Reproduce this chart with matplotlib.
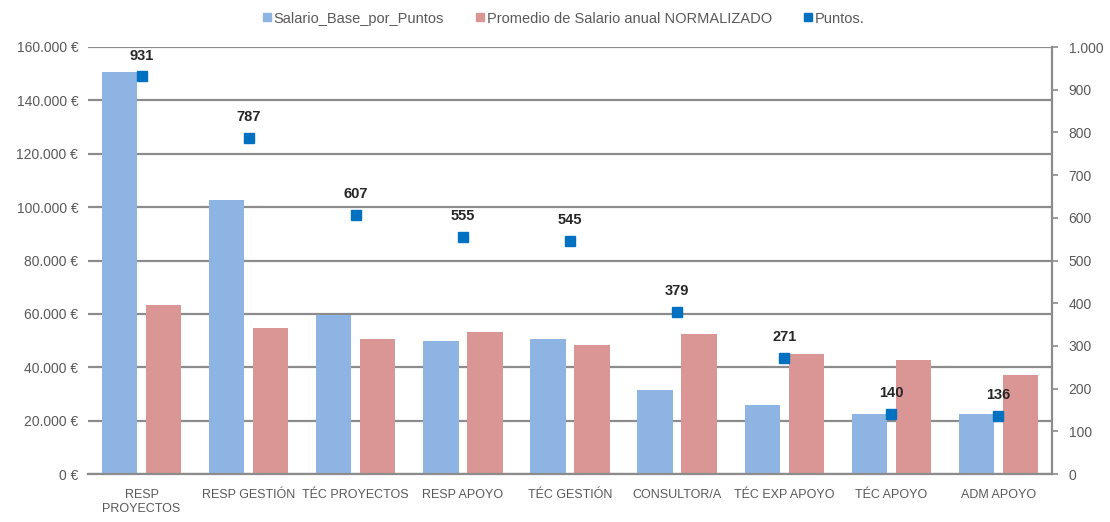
import matplotlib
matplotlib.use("Agg")
import matplotlib.pyplot as plt
from matplotlib.ticker import FuncFormatter, MultipleLocator
from matplotlib.lines import Line2D
import numpy as np

categories = ["RESP\nPROYECTOS", "RESP GESTIÓN", "TÉC PROYECTOS", "RESP APOYO",
              "TÉC GESTIÓN", "CONSULTOR/A", "TÉC EXP APOYO", "TÉC APOYO", "ADM APOYO"]
salario_base = [150800, 102600, 59700, 49900, 50600, 31300, 25900, 22500, 22500]
salario_normalizado = [63500, 54700, 50700, 53200, 48300, 52300, 45100, 42800, 37000]
puntos = [931, 787, 607, 555, 545, 379, 271, 140, 136]

series_names = ["Salario_Base_por_Puntos", "Promedio de Salario anual NORMALIZADO", "Puntos."]
blue = "#8EB4E3"
red = "#D99694"
point_color = "#0070C0"
grid_color = "#8C8C8C"
text_color = "#595959"

plt.rcParams["font.family"] = ["Liberation Sans", "DejaVu Sans"]

fig = plt.figure(figsize=(11.1, 5.22), dpi=100)
ax = fig.add_axes([88 / 1110, 1 - 474 / 522, (1052 - 88) / 1110, (474 - 47) / 522])
ax2 = ax.twinx()

x = np.arange(len(categories))
width = 0.33
offset = 0.205
ax.bar(x - offset, salario_base, width, color=blue, zorder=2)
ax.bar(x + offset, salario_normalizado, width, color=red, zorder=2)

ax.set_xlim(-0.5, len(categories) - 0.5)
ax.set_ylim(0, 160000)
ax.yaxis.set_major_locator(MultipleLocator(20000))
ax.yaxis.set_major_formatter(FuncFormatter(lambda v, p: f"{int(v):,} €".replace(",", ".")))
ax.grid(axis="y", color=grid_color, linewidth=1.6, zorder=0)
ax.set_axisbelow(True)
ax.tick_params(axis="y", length=0, labelsize=10, labelcolor=text_color, pad=7)
ax.tick_params(axis="x", length=0, labelsize=9, labelcolor=text_color, pad=11)
ax.set_xticks(x)
ax.set_xticklabels(categories)
for s in ["top", "left", "right"]:
    ax.spines[s].set_visible(False)
ax.spines["bottom"].set_color(grid_color)
ax.spines["bottom"].set_linewidth(1.6)

ax2.plot(x, puntos, linestyle="none", marker="s", markersize=7, color=point_color, zorder=3)
for xi, v in zip(x, puntos):
    ax2.annotate(f"{v}", (xi, v), xytext=(0, 10), textcoords="offset points",
                 ha="center", va="bottom", fontsize=10.5, fontweight="bold", color="#262626")
ax2.set_ylim(0, 1000)
ax2.yaxis.set_major_locator(MultipleLocator(100))
ax2.yaxis.set_major_formatter(FuncFormatter(lambda v, p: f"{int(v):,}".replace(",", ".")))
ax2.tick_params(axis="y", length=4, width=1.2, color=grid_color, labelsize=10,
                labelcolor=text_color, pad=8)
for s in ["top", "left", "bottom"]:
    ax2.spines[s].set_visible(False)
ax2.spines["right"].set_color(grid_color)
ax2.spines["right"].set_linewidth(1.6)

handles = [
    Line2D([], [], linestyle="none", marker="s", markersize=6, color=blue),
    Line2D([], [], linestyle="none", marker="s", markersize=6, color=red),
    Line2D([], [], linestyle="none", marker="s", markersize=6, color=point_color),
]
fig.legend(handles, series_names, loc="upper center", bbox_to_anchor=(0.507, 1.003), ncol=3,
           frameon=False, fontsize=10.5, labelcolor=text_color, handletextpad=0.05,
           columnspacing=2.1, handlelength=0.8)

fig.savefig("out.png", dpi=100)
